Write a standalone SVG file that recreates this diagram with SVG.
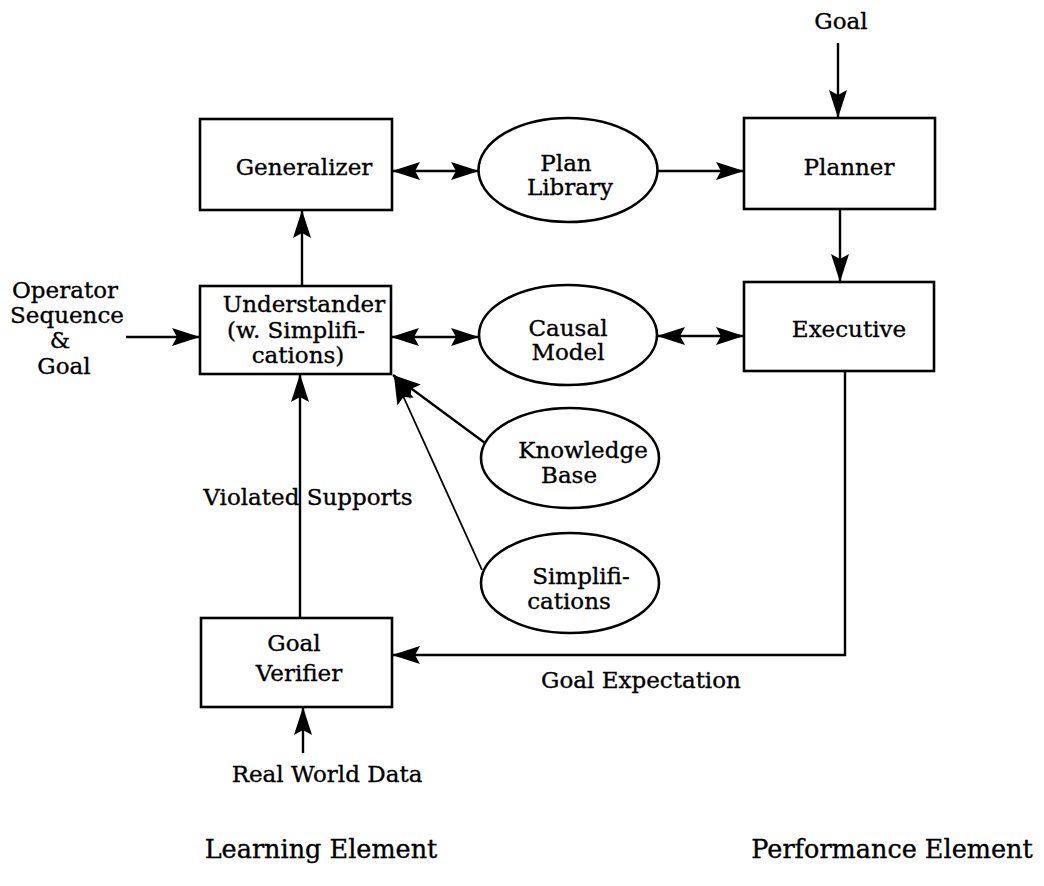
<svg xmlns="http://www.w3.org/2000/svg" width="1044" height="886" viewBox="0 0 1044 886">
<style>
.box{fill:#fff;stroke:#000;stroke-width:2.6}
.ell{fill:#fff;stroke:#000;stroke-width:2.6}
.t{font-family:"DejaVu Serif","Liberation Serif",serif;font-size:23px;fill:#000;stroke:#000;stroke-width:0.35;text-anchor:middle}
.big{font-size:25.5px}
.c{fill:none;stroke:#000;stroke-width:2.4}
.thin{stroke-width:1.8}
</style>
<defs>
<marker id="ah" markerUnits="userSpaceOnUse" markerWidth="30" markerHeight="19" refX="28" refY="9.5" orient="auto-start-reverse" overflow="visible">
<path d="M28,9.5 L0,0.5 L5,9.5 L0,18.5 Z" fill="#000"/>
</marker>
</defs>
<rect width="1044" height="886" fill="#fff"/>
<g id="connectors">
<line class="c" x1="838" y1="43" x2="838" y2="118" marker-end="url(#ah)"/>
<line class="c" x1="392" y1="171" x2="479" y2="171" marker-start="url(#ah)" marker-end="url(#ah)"/>
<line class="c" x1="658" y1="171" x2="744" y2="171" marker-end="url(#ah)"/>
<line class="c" x1="840" y1="209" x2="840" y2="282" marker-end="url(#ah)"/>
<line class="c" x1="302" y1="286" x2="302" y2="210" marker-end="url(#ah)"/>
<line class="c" x1="126" y1="337" x2="200" y2="337" marker-end="url(#ah)"/>
<line class="c" x1="391" y1="337" x2="479" y2="337" marker-start="url(#ah)" marker-end="url(#ah)"/>
<line class="c" x1="657" y1="336" x2="744" y2="336" marker-start="url(#ah)" marker-end="url(#ah)"/>
<line class="c" x1="485" y1="443" x2="393" y2="375" marker-end="url(#ah)"/>
<line class="c thin" x1="482" y1="570" x2="394" y2="376" marker-end="url(#ah)"/>
<line class="c" x1="300" y1="618" x2="300" y2="374" marker-end="url(#ah)"/>
<line class="c" x1="303" y1="753" x2="303" y2="707" marker-end="url(#ah)"/>
<polyline class="c" points="845,371 845,655 392,655" marker-end="url(#ah)"/>
</g>
<g id="generalizer"><rect class="box" x="200" y="119" width="192" height="91"/><text class="t" x="304" y="175">Generalizer</text></g>
<g id="plan-library"><ellipse class="ell" cx="568" cy="170" rx="89.5" ry="52"/><text class="t" x="566" y="171">Plan</text><text class="t" x="570" y="195">Library</text></g>
<g id="planner"><rect class="box" x="744" y="118" width="191" height="91"/><text class="t" x="849" y="175">Planner</text></g>
<g id="understander"><rect class="box" x="200" y="286" width="191" height="88"/><text class="t" x="304" y="312">Understander</text><text class="t" x="296" y="338">(w. Simplifi-</text><text class="t" x="298" y="363">cations)</text></g>
<g id="causal-model"><ellipse class="ell" cx="568" cy="335" rx="89" ry="50"/><text class="t" x="568" y="336">Causal</text><text class="t" x="568" y="360">Model</text></g>
<g id="executive"><rect class="box" x="744" y="282" width="190" height="89"/><text class="t" x="849" y="337">Executive</text></g>
<g id="knowledge-base"><ellipse class="ell" cx="570" cy="458" rx="89" ry="50"/><text class="t" x="583" y="458">Knowledge</text><text class="t" x="569" y="483">Base</text></g>
<g id="simplifications"><ellipse class="ell" cx="570" cy="583" rx="89" ry="50"/><text class="t" x="581" y="584">Simplifi-</text><text class="t" x="569" y="609">cations</text></g>
<g id="goal-verifier"><rect class="box" x="201" y="618" width="191" height="89"/><text class="t" x="294" y="651">Goal</text><text class="t" x="299" y="681">Verifier</text></g>
<g id="labels">
<text class="t" x="841" y="29">Goal</text>
<text class="t" x="65" y="298">Operator</text>
<text class="t" x="67" y="323">Sequence</text>
<text class="t" x="60" y="348">&amp;</text>
<text class="t" x="64" y="374">Goal</text>
<text class="t" x="308" y="505">Violated Supports</text>
<text class="t" x="641" y="688">Goal Expectation</text>
<text class="t" x="327" y="782">Real World Data</text>
<text class="t big" x="321" y="858">Learning Element</text>
<text class="t big" x="892" y="858">Performance Element</text>
</g>
</svg>
